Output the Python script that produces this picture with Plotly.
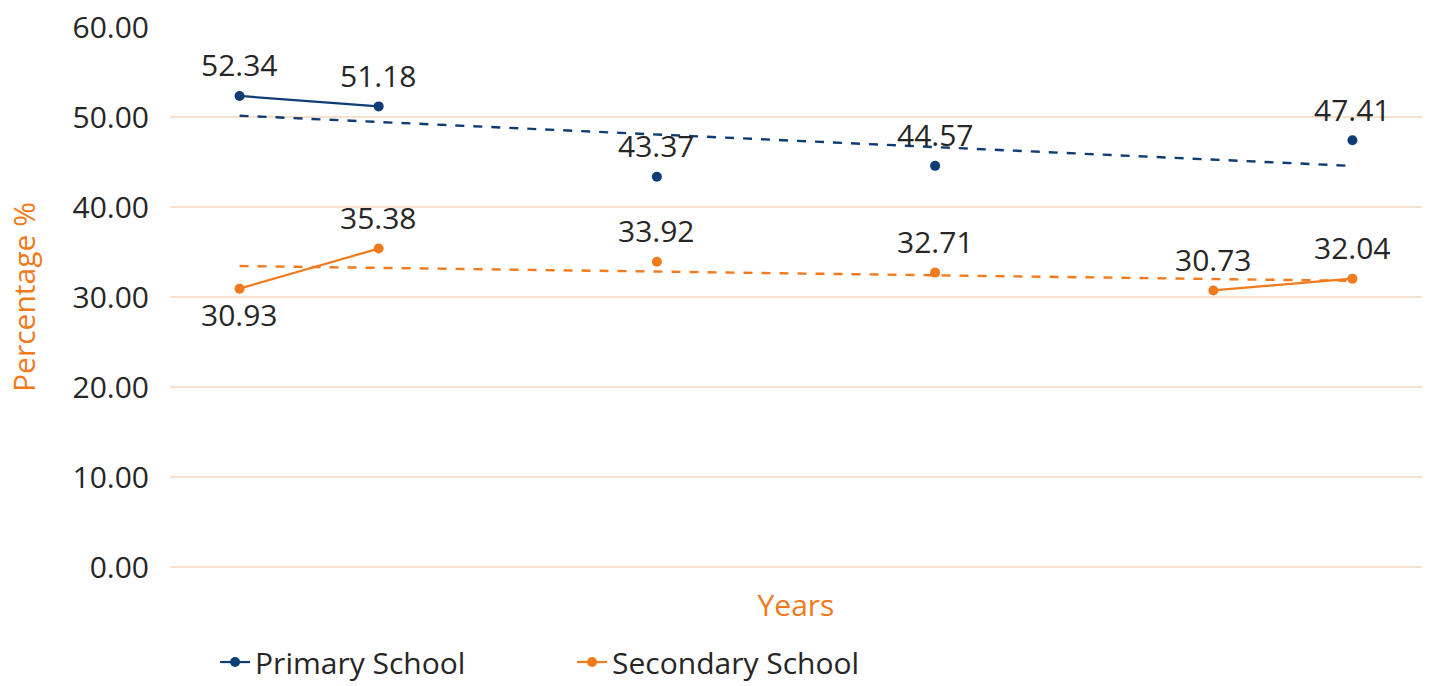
import plotly.graph_objects as go
import numpy as np

# Data (9 yearly slots; None = no data that year)
periods = list(range(9))
primary = [52.34, 51.18, None, 43.37, None, 44.57, None, None, 47.41]
secondary = [30.93, 35.38, None, 33.92, None, 32.71, None, 30.73, 32.04]
secondary_label_side = ["below", "above", None, "above", None,
                        "above", None, "above", "above"]

NAVY = "#0e3c74"
ORANGE = "#f07a1c"
GRID = "#f8e0cf"
FONT = "Open Sans"
TXT = "#262626"
FS = 30


def trend(vals):
    xs = np.array([p for p, v in zip(periods, vals) if v is not None], float)
    ys = np.array([v for v in vals if v is not None], float)
    k, b = np.polyfit(xs, ys, 1)
    xt = np.array([xs.min(), xs.max()])
    return xt, k * xt + b


fig = go.Figure()

for vals, color in [(primary, NAVY), (secondary, ORANGE)]:
    xt, yt = trend(vals)
    fig.add_trace(go.Scatter(x=xt, y=yt, mode="lines", showlegend=False,
                             line=dict(color=color, width=2.4, dash="dash"),
                             hoverinfo="skip"))

fig.add_trace(go.Scatter(
    x=periods, y=primary, mode="lines+markers", name="Primary School",
    line=dict(color=NAVY, width=2.2), marker=dict(color=NAVY, size=10),
    connectgaps=False))

fig.add_trace(go.Scatter(
    x=periods, y=secondary, mode="lines+markers", name="Secondary School",
    line=dict(color=ORANGE, width=2.2), marker=dict(color=ORANGE, size=10),
    connectgaps=False))

# data labels
for p, v in zip(periods, primary):
    if v is not None:
        fig.add_annotation(x=p, y=v, text=f"{v:.2f}", showarrow=False,
                           yshift=31, font=dict(size=FS, color=TXT, family=FONT))
for p, v, side in zip(periods, secondary, secondary_label_side):
    if v is not None:
        fig.add_annotation(x=p, y=v, text=f"{v:.2f}", showarrow=False,
                           yshift=31 if side == "above" else -26,
                           font=dict(size=FS, color=TXT, family=FONT))

fig.update_layout(
    width=1429, height=686,
    margin=dict(l=170, r=7, t=27, b=119, autoexpand=False),
    paper_bgcolor="white", plot_bgcolor="white",
    font=dict(family=FONT, color=TXT, size=FS),
    showlegend=True,
    legend=dict(orientation="h", x=0.036, xanchor="left", y=-0.176, yanchor="middle",
                font=dict(size=FS, color=TXT, family=FONT),
                entrywidth=312, entrywidthmode="pixels", tracegroupgap=0),
    xaxis=dict(range=[-0.5, 8.5], showticklabels=False, showgrid=False,
               zeroline=False, showline=False, ticks="", automargin=False,
               title=dict(text="Years", font=dict(size=FS, color=ORANGE, family=FONT),
                          standoff=27)),
    yaxis=dict(range=[0, 60], dtick=10, tickformat=".2f", showgrid=True,
               gridcolor=GRID, gridwidth=1.5, zeroline=True, zerolinecolor=GRID,
               zerolinewidth=1.5, showline=False, ticks="", automargin=False,
               ticklabelstandoff=20,
               tickfont=dict(size=FS, color=TXT, family=FONT),
               title=dict(text="Percentage %", font=dict(size=FS, color=ORANGE, family=FONT),
                          standoff=28)),
)

fig.write_html("out.html")
